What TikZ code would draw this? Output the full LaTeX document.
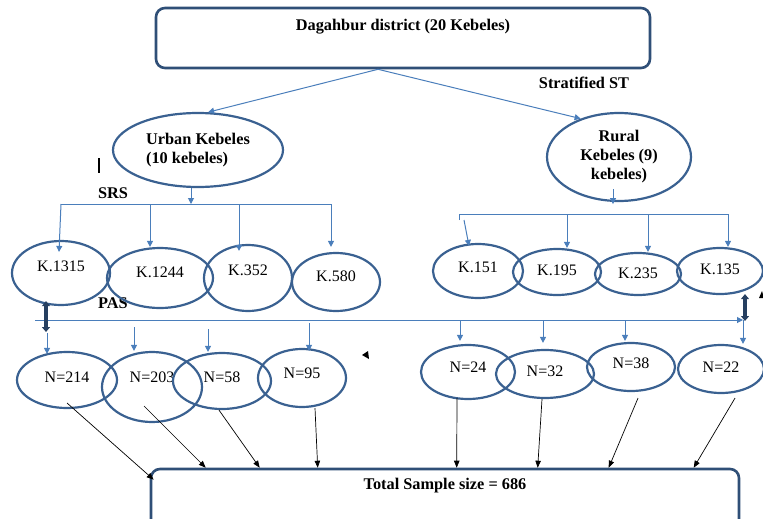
\documentclass[tikz,border=0pt]{standalone}
\usepackage{fontspec}
\setmainfont{Liberation Serif}
\usetikzlibrary{arrows.meta, shapes.geometric, calc}
\definecolor{ovalblue}{HTML}{3A6191}
\definecolor{boxblue}{HTML}{2F4F77}
\definecolor{lineblue}{HTML}{4A7EBB}
\definecolor{darknavy}{HTML}{263F60}

\begin{document}
\begin{tikzpicture}[
  x=1pt, y=-1pt,
  every node/.style={font=\fontsize{16}{19}\selectfont},
  box/.style={draw=boxblue, line width=2.6pt, rounded corners=9pt, inner sep=0pt},
  oval/.style={draw=ovalblue, line width=2.2pt, ellipse, inner sep=0pt},
  lbl/.style={font=\fontsize{16.3}{19}\selectfont\bfseries},
  barr/.style={draw=lineblue, line width=1pt, -{Triangle[width=6pt,length=6pt]}},
  karr/.style={draw=black, line width=0.7pt, -{Triangle[width=5.5pt,length=7pt]}},
  dbl/.style={draw=darknavy, line width=3.4pt, {Triangle[width=8pt,length=5pt]}-{Triangle[width=8pt,length=5pt]}},
]
  \clip (0,0) rectangle (763,519);

  \node[box, minimum width=494, minimum height=60] (dist) at (403,38) {};
  \node[lbl] (distlbl) at ([yshift=-20pt]dist.north) {Dagahbur district (20 Kebeles)};
  \node[lbl] (strat) at (584,83) {Stratified ST};

  \node[oval, minimum width=170, minimum height=74, lbl, align=left] (urban) at (198,150) {Urban Kebeles\\(10 kebeles)};
  \node[oval, minimum width=144, minimum height=88, lbl, align=center] (rural) at (619,157) {Rural\\Kebeles (9)\\kebeles)};

  \draw[barr] ([xshift=-25pt]dist.south) -- (urban.75);
  \draw[barr] ([xshift=-25pt]dist.south) -- (rural.135);

  \draw[black, line width=1.6pt] (99,158) -- (99,173);
  \node[lbl] (srs) at (113,193) {SRS};
  \node[lbl] (pas) at (113,303) {PAS};

  \node[oval, minimum width=98,  minimum height=64, text depth=14pt] (k1315) at (61,273)  {K.1315};
  \node[oval, minimum width=106, minimum height=60, text depth=12pt] (k1244) at (160,278) {K.1244};
  \node[oval, minimum width=88,  minimum height=66, text depth=16pt] (k352)  at (248,278) {K.352};
  \node[oval, minimum width=88,  minimum height=58, text depth=12pt] (k580)  at (336,282) {K.580};

  \node[oval, minimum width=90, minimum height=54, text depth=8pt] (k151) at (478,271) {K.151};
  \node[oval, minimum width=88, minimum height=46, text depth=4pt] (k195) at (557,272) {K.195};
  \node[oval, minimum width=86, minimum height=42, text depth=2pt] (k235) at (638,274) {K.235};
  \node[oval, minimum width=86, minimum height=46, text depth=4pt] (k135) at (720,271) {K.135};

  \coordinate (ub1) at (61,204);
  \coordinate (ub2) at (150,204);
  \coordinate (ub3) at (239,204);
  \coordinate (ub4) at (331,204);
  \draw[barr] ([xshift=-7pt]urban.south) -- ([xshift=-7pt]urban.south |- ub1);
  \draw[lineblue, line width=1pt] (ub1) -- (ub4);
  \draw[barr] (ub1) -- ([xshift=-2pt,yshift=-12pt]k1315.north);
  \draw[barr] (ub2) -- (ub2 |- k1244.north);
  \draw[barr] (ub3) -- ([yshift=-7pt]ub3 |- k352.north);
  \draw[barr] (ub4) -- ([yshift=5pt]ub4 |- k580.north);

  \coordinate (rb1) at (459,214);
  \coordinate (rb2) at (567,214);
  \coordinate (rb3) at (648,214);
  \coordinate (rb4) at (728,214);
  \draw[barr] ([xshift=-6pt,yshift=13pt]rural.south) -- ([xshift=-6pt,yshift=-2pt]rural.south);
  \draw[lineblue, line width=1pt] ([yshift=-6pt]rb1) -- (rb1) -- (rb4);
  \draw[barr] ([xshift=5pt,yshift=-6pt]rb1) -- ([xshift=-9pt,yshift=-3pt]k151.north);
  \draw[barr] (rb2) -- (rb2 |- k195.north);
  \draw[barr] (rb3) -- (rb3 |- k235.north);
  \draw[barr] (rb4) -- (rb4 |- k135.north);

  \coordinate (pasl) at (35,320);
  \coordinate (pasr) at (743,320);
  \draw[barr] (pasl) -- (pasr);

  \node[oval, minimum width=100, minimum height=56, text depth=6pt]  (n214) at (67,380)  {N=214};
  \node[oval, minimum width=100, minimum height=70, text depth=20pt] (n203) at (152,387) {N=203};
  \node[oval, minimum width=98,  minimum height=56, text depth=8pt]  (n58)  at (222,381) {N=58};
  \node[oval, minimum width=88,  minimum height=58, text depth=10pt] (n95)  at (302,378) {N=95};

  \node[oval, minimum width=94, minimum height=54, text depth=10pt] (n24) at (468,372) {N=24};
  \node[oval, minimum width=98, minimum height=48, text depth=6pt]  (n32) at (545,374) {N=32};
  \node[oval, minimum width=88, minimum height=48, text depth=8pt]  (n38) at (631,367) {N=38};
  \node[oval, minimum width=86, minimum height=48, text depth=4pt]  (n22) at (721,369) {N=22};

  \coordinate (pd1) at (47,333);
  \coordinate (pd2) at (134,327);
  \coordinate (pd3) at (208,329);
  \coordinate (pd4) at (309,323);
  \draw[barr] (pd1) -- ([yshift=-3pt]pd1 |- n214.north);
  \draw[barr] (pd2) -- (pd2 |- n203.north);
  \draw[barr] (pd3) -- (pd3 |- n58.north);
  \draw[barr] (pd4) -- ([yshift=-3pt]pd4 |- n95.north);
  \draw[barr] (pasl -| n24.north) ++(-8,0) -- ([xshift=-8pt,yshift=3pt]n24.north);
  \draw[barr] (pasl -| n32.north) ++(-2,0) -- ([xshift=-2pt,yshift=6pt]n32.north);
  \draw[barr] (pasl -| n38.north) ++(-6,0) -- ([xshift=-6pt,yshift=1pt]n38.north);
  \draw[barr] (pasr) -- (pasr |- n22.north);

  \draw[dbl] ([xshift=-15pt,yshift=5pt]k1315.south) -- ([xshift=11pt,yshift=-12pt]pasl);
  \draw[dbl] ([xshift=25pt,yshift=1pt]k135.south) -- ([xshift=2pt,yshift=-1pt]pasr);

  \fill[black] (362,355) -- (368,351) -- (369,359) -- cycle;
  \fill[black] (759,298) -- (762,291) -- (764,298) -- cycle;

  \node[box, minimum width=588, minimum height=70] (tot) at (445,504) {};
  \node[lbl] (totlbl) at ([yshift=-18pt]tot.north) {Total Sample size = 686};

  \draw[karr] ([yshift=-23pt]n214.center) -- ([xshift=4pt,yshift=-12pt]tot.north west);
  \draw[karr] ([xshift=-8pt,yshift=-19pt]n203.center) -- ([xshift=56pt]tot.north west);
  \draw[karr] ([xshift=-3pt]n58.south) -- ([xshift=110pt]tot.north west);
  \draw[karr] ([xshift=13pt]n95.south) -- ([xshift=168pt]tot.north west);
  \draw[karr] ([xshift=-11pt,yshift=2pt]n24.south) -- ([xshift=307pt]tot.north west);
  \draw[karr] ([xshift=-3pt]n32.south) -- ([xshift=388pt]tot.north west);
  \draw[karr] ([xshift=7pt,yshift=-6pt]n38.south) -- ([xshift=459pt]tot.north west);
  \draw[karr] ([xshift=14pt,yshift=-4pt]n22.south) -- ([xshift=544pt]tot.north west);
\end{tikzpicture}
\end{document}
